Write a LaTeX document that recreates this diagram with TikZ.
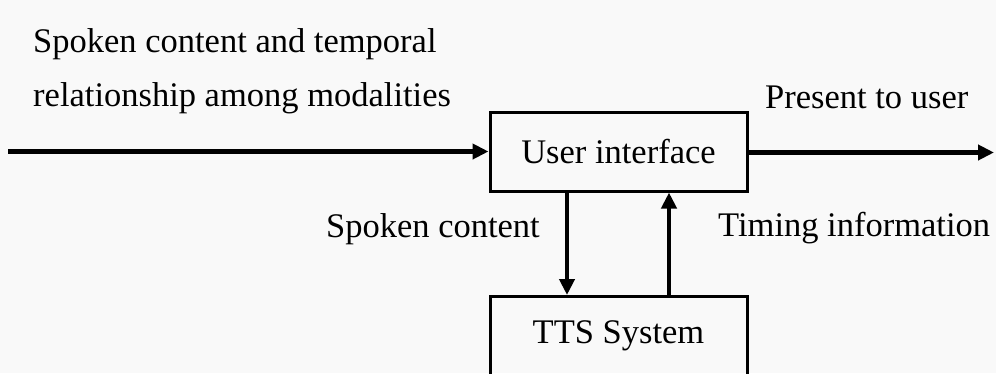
\documentclass[tikz,border=0pt]{standalone}
\usepackage{fontspec}
\setmainfont{Liberation Serif}
\usetikzlibrary{arrows.meta}
\begin{document}
\begin{tikzpicture}[x=1pt,y=-1pt,
  boxst/.style={draw=black,line width=3pt,minimum width=257pt,minimum height=79pt,inner sep=0pt,font=\fontsize{34.5}{40}\selectfont},
  lbl/.style={font=\fontsize{34.5}{40}\selectfont,inner sep=0pt},
  conn/.style={line width=4.5pt,-{Triangle[length=16pt,width=15pt]}}]
\fill[white!95!gray] (0,0) rectangle (996,373);
\useasboundingbox (0,0) rectangle (996,373);
\node[boxst] (ui) at (618.5,151.5) {User interface};
\node[boxst] (tts) at (618.5,336) {TTS System};
\coordinate (in) at (8,151.5);
\coordinate (out) at (994,152.5);
\draw[conn] (in) -- (ui.west);
\draw[conn] (ui.east |- out) -- (out);
\draw[conn] (ui.south -| 567,0) -- (tts.north -| 567,0);
\draw[conn] (tts.north -| 669,0) -- (ui.south -| 669,0);
\node[lbl,anchor=west] (l1) at (33,44) {Spoken content and temporal};
\node[lbl,anchor=west] (l2) at (33,98) {relationship among modalities};
\node[lbl,anchor=west] (pu) at (765,97) {Present to user};
\node[lbl,anchor=east] (sc) at (540,229) {Spoken content};
\node[lbl,anchor=west] (ti) at (718,228) {Timing information};
\end{tikzpicture}
\end{document}
